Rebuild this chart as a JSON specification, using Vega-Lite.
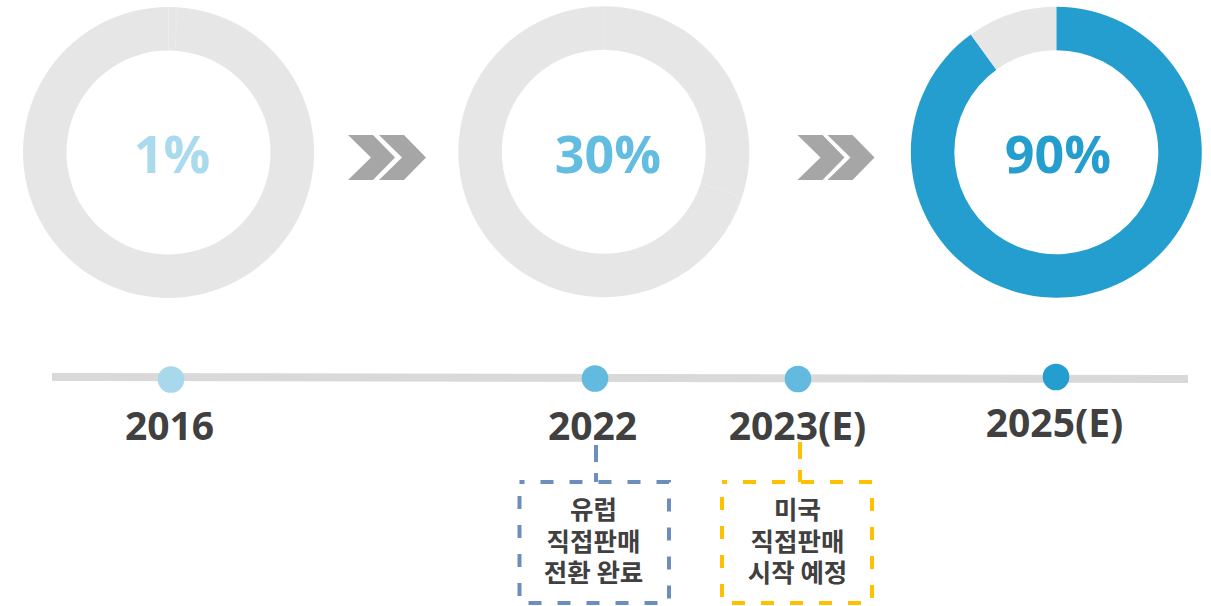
{
  "$schema": "https://vega.github.io/schema/vega-lite/v6.json",
  "width": 1211,
  "height": 606,
  "padding": 0,
  "autosize": {"type": "none"},
  "background": "white",
  "config": {"view": {"stroke": null}},
  "datasets": {
    "donuts": [
      {"donut": "2016", "kind": "value", "value": 1, "cx": 168.5, "cy": 152.5},
      {"donut": "2016", "kind": "rest", "value": 99, "cx": 168.5, "cy": 152.5},
      {"donut": "2022", "kind": "value", "value": 30, "cx": 603.8, "cy": 151.8},
      {"donut": "2022", "kind": "rest", "value": 70, "cx": 603.8, "cy": 151.8},
      {"donut": "2025(E)", "kind": "value", "value": 90, "cx": 1056.3, "cy": 152.2},
      {"donut": "2025(E)", "kind": "rest", "value": 10, "cx": 1056.3, "cy": 152.2}
    ],
    "pct": [
      {"donut": "2016", "label": "1%", "cx": 172, "cy": 173},
      {"donut": "2022", "label": "30%", "cx": 608, "cy": 173},
      {"donut": "2025(E)", "label": "90%", "cx": 1058, "cy": 173}
    ],
    "chevrons": [
      {"cx": 371.5, "cy": 157.5},
      {"cx": 402.5, "cy": 157.5},
      {"cx": 821, "cy": 157.5},
      {"cx": 851, "cy": 157.5}
    ],
    "timeline": [{"cx": 52, "cy": 377, "cx2": 1188, "cy2": 379}],
    "dots": [
      {"year": "2016", "cx": 171, "cy": 379.5},
      {"year": "2022", "cx": 595, "cy": 378.5},
      {"year": "2023(E)", "cx": 798, "cy": 379},
      {"year": "2025(E)", "cx": 1056, "cy": 377}
    ],
    "years": [
      {"year": "2016", "cx": 169.5, "cy": 440},
      {"year": "2022", "cx": 592.5, "cy": 440},
      {"year": "2023(E)", "cx": 797.5, "cy": 440},
      {"year": "2025(E)", "cx": 1054.5, "cy": 437}
    ],
    "connectors": [
      {"box": "eu", "cx": 596, "cy": 445, "cy2": 482},
      {"box": "us", "cx": 800, "cy": 442, "cy2": 482}
    ],
    "boxes": [
      {"box": "eu", "cx": 519.5, "cx2": 669, "cy": 482, "cy2": 603},
      {"box": "us", "cx": 722, "cx2": 872, "cy": 482, "cy2": 603}
    ],
    "notes": [
      {"box": "eu", "note": "유럽\n직접판매\n전환 완료", "cx": 593.5, "cy": 511},
      {"box": "us", "note": "미국\n직접판매\n시작 예정", "cx": 797.5, "cy": 511}
    ]
  },
  "encoding": {
    "x": {"field": "cx", "type": "quantitative", "scale": {"domain": [0, 1211], "nice": false, "zero": false}, "axis": null},
    "y": {"field": "cy", "type": "quantitative", "scale": {"domain": [0, 606], "nice": false, "zero": false, "reverse": true}, "axis": null}
  },
  "layer": [
    {
      "data": {"name": "timeline"},
      "mark": {"type": "rule", "color": "#D9D9D9", "strokeWidth": 8, "strokeCap": "butt"},
      "encoding": {
        "x2": {"field": "cx2"},
        "y2": {"field": "cy2"}
      }
    },
    {
      "data": {"name": "dots"},
      "mark": {"type": "point", "shape": "circle", "filled": true, "opacity": 1, "size": 707, "strokeWidth": 0},
      "encoding": {
        "color": {"field": "year", "type": "nominal", "legend": null,
          "scale": {"domain": ["2016", "2022", "2023(E)", "2025(E)"], "range": ["#A7D8EC", "#62BADF", "#62BADF", "#239ECE"]}}
      }
    },
    {
      "data": {"name": "years"},
      "mark": {"type": "text", "font": "Open Sans", "fontWeight": "bold", "fontSize": 39, "align": "center", "baseline": "alphabetic", "color": "#404040"},
      "encoding": {"text": {"field": "year"}}
    },
    {
      "data": {"name": "donuts"},
      "transform": [
        {"stack": "value", "groupby": ["donut"], "sort": [{"field": "kind", "order": "descending"}], "as": ["v0", "v1"]}
      ],
      "mark": {"type": "arc", "outerRadius": 145.5, "innerRadius": 102},
      "encoding": {
        "theta": {"field": "v0", "type": "quantitative", "stack": null, "scale": {"domain": [0, 100], "range": [0, 6.283185307]}},
        "theta2": {"field": "v1"},
        "color": {
          "condition": {"test": "datum.kind === 'value' && datum.donut === '2025(E)'", "value": "#239ECE"},
          "value": "#E6E6E6"
        }
      }
    },
    {
      "data": {"name": "pct"},
      "mark": {"type": "text", "font": "Open Sans", "fontWeight": "bold", "fontSize": 52, "align": "center", "baseline": "alphabetic"},
      "encoding": {
        "text": {"field": "label"},
        "color": {"field": "donut", "type": "nominal", "legend": null,
          "scale": {"domain": ["2016", "2022", "2025(E)"], "range": ["#A9DAEE", "#63BDE0", "#239ECE"]}}
      }
    },
    {
      "data": {"name": "chevrons"},
      "mark": {"type": "point", "shape": "M-1,-0.957L0.064,-0.957L1,0L0.064,0.957L-1,0.957L-0.021,0Z", "filled": true, "opacity": 1, "size": 2209, "color": "#A6A6A6", "strokeWidth": 0}
    },
    {
      "data": {"name": "connectors"},
      "mark": {"type": "rule", "strokeWidth": 4, "strokeDash": [17, 11], "strokeCap": "butt"},
      "encoding": {
        "y2": {"field": "cy2"},
        "color": {"field": "box", "type": "nominal", "legend": null,
          "scale": {"domain": ["eu", "us"], "range": ["#6C8EBF", "#FFC000"]}}
      }
    },
    {
      "data": {"name": "boxes"},
      "mark": {"type": "rect", "filled": false, "strokeWidth": 4, "strokeDash": [13, 16], "strokeDashOffset": 8},
      "encoding": {
        "x2": {"field": "cx2"},
        "y2": {"field": "cy2"},
        "color": {"field": "box", "type": "nominal", "legend": null,
          "scale": {"domain": ["eu", "us"], "range": ["#6C8EBF", "#FFC000"]}}
      }
    },
    {
      "data": {"name": "notes"},
      "mark": {"type": "text", "font": "Noto Sans CJK KR", "fontWeight": "bold", "fontSize": 25.5, "lineHeight": 31.5, "lineBreak": "\n", "align": "center", "baseline": "middle", "color": "#404040"},
      "encoding": {"text": {"field": "note"}}
    }
  ],
  "resolve": {"scale": {"color": "independent"}}
}
